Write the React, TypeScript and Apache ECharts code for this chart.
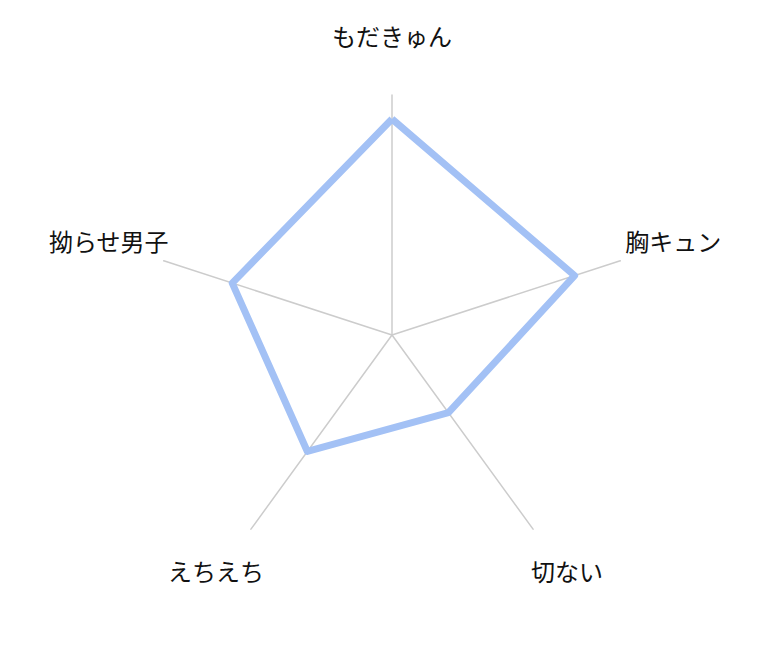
import React, { useEffect, useRef } from "react";
import * as echarts from "echarts";

// Indicators listed in the radar's drawing order (counter-clockwise from the top)
const indicatorNames = ["もだきゅん", "拗らせ男子", "えちえち", "切ない", "胸キュン"];
const indicatorMax = [100, 100, 100, 100, 100];
const seriesValues = [90, 70, 60, 40, 80];

const labelPadding: Record<string, number[]> = {
  p0: [0, 0, 120, 0],
  p1: [0, 110, 41, 0],
  p2: [82, 70, 0, 0],
  p3: [82, 0, 0, 68],
  p4: [0, 0, 41, 106],
};

export default function App() {
  const ref = useRef<HTMLDivElement>(null);
  useEffect(() => {
    if (!ref.current) return;
    const chart = echarts.init(ref.current, null, { renderer: "svg" });
    const rich: Record<string, any> = {};
    Object.keys(labelPadding).forEach((k) => {
      rich[k] = {
        padding: labelPadding[k],
        fontSize: 24,
        color: "#111111",
        fontFamily: "Noto Sans CJK JP",
      };
    });
    chart.setOption({
      animation: false,
      radar: {
        center: [384, 327],
        radius: 240,
        startAngle: 90,
        shape: "polygon",
        splitNumber: 1,
        indicator: indicatorNames.map((name, i) => ({ name, max: indicatorMax[i] })),
        axisName: {
          color: "#111111",
          fontSize: 24,
          fontFamily: "Noto Sans CJK JP",
          align: "center",
          verticalAlign: "middle",
          formatter: (name: string) => `{p${indicatorNames.indexOf(name)}|${name}}`,
          rich,
        },
        nameGap: 0,
        axisLine: { lineStyle: { color: "#cccccc", width: 1.5 } },
        splitLine: { show: false },
        splitArea: { show: false },
      },
      series: [
        {
          type: "radar",
          symbol: "none",
          data: [
            {
              value: seriesValues,
              lineStyle: { color: "#a3c1f5", width: 7 },
              itemStyle: { color: "#a3c1f5" },
            },
          ],
        },
      ],
    });
    return () => chart.dispose();
  }, []);
  return <div ref={ref} style={{ width: 766, height: 656 }} />;
}
